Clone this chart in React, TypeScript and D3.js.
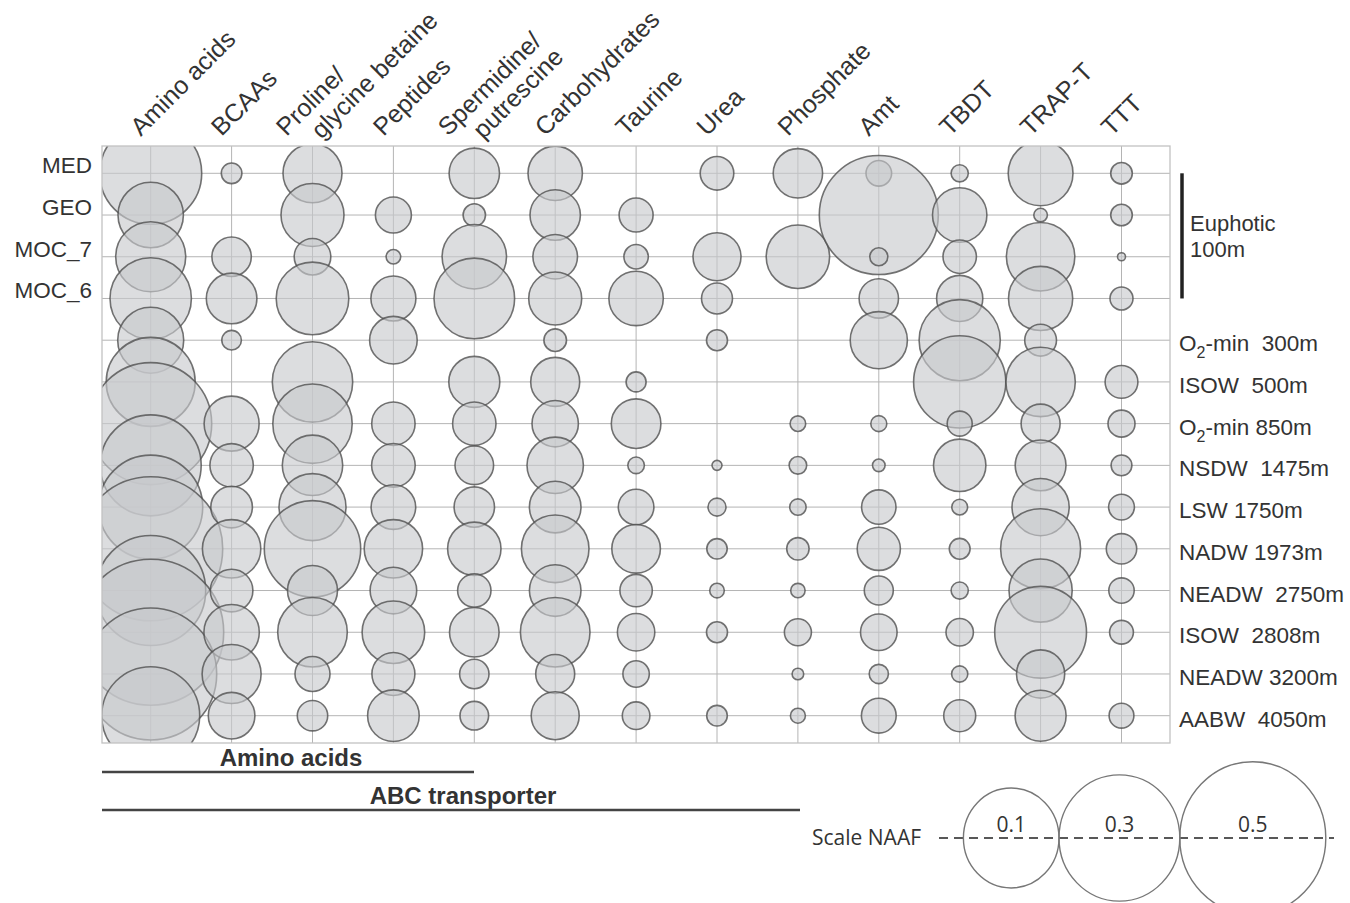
import React from "react";
import * as d3 from "d3";

// ---- data ----
const columnLabels: string[][] = [
  ["Amino acids"],
  ["BCAAs"],
  ["Proline/", "glycine betaine"],
  ["Peptides"],
  ["Spermidine/", "putrescine"],
  ["Carbohydrates"],
  ["Taurine"],
  ["Urea"],
  ["Phosphate"],
  ["Amt"],
  ["TBDT"],
  ["TRAP-T"],
  ["TTT"],
];

const sampleNames = [
  "MED", "GEO", "MOC_7", "MOC_6",
  "O2-min  300m", "ISOW  500m", "O2-min 850m", "NSDW  1475m", "LSW 1750m",
  "NADW 1973m", "NEADW  2750m", "ISOW  2808m", "NEADW 3200m", "AABW  4050m",
];
const leftLabelRows = ["MED", "GEO", "MOC_7", "MOC_6"];

// relative abundance (size units), one value per sample, 0 = not detected
const aminoAcids = [0.51, 0.327, 0.35, 0.407, 0.33, 0.445, 0.61, 0.505, 0.52, 0.72, 0.55, 0.73, 0.66, 0.49];
const bcaas = [0.103, 0, 0.197, 0.253, 0.098, 0, 0.275, 0.217, 0.208, 0.292, 0.213, 0.277, 0.295, 0.233];
const proline = [0.295, 0.315, 0.183, 0.363, 0, 0.402, 0.397, 0.302, 0.335, 0.482, 0.25, 0.348, 0.175, 0.152];
const peptides = [0, 0.18, 0.073, 0.225, 0.238, 0, 0.217, 0.218, 0.223, 0.292, 0.233, 0.313, 0.215, 0.258];
const spermidine = [0.252, 0.112, 0.322, 0.403, 0, 0.255, 0.217, 0.193, 0.202, 0.267, 0.167, 0.248, 0.147, 0.143];
const carbohydrates = [0.272, 0.252, 0.223, 0.265, 0.113, 0.245, 0.232, 0.282, 0.258, 0.338, 0.258, 0.348, 0.195, 0.24];
const taurine = [0, 0.17, 0.122, 0.272, 0, 0.1, 0.248, 0.083, 0.178, 0.243, 0.162, 0.187, 0.132, 0.138];
const urea = [0.168, 0, 0.24, 0.155, 0.105, 0, 0, 0.05, 0.09, 0.102, 0.073, 0.105, 0, 0.103];
const phosphate = [0.247, 0, 0.317, 0, 0, 0, 0.078, 0.088, 0.082, 0.112, 0.072, 0.135, 0.058, 0.075];
const amt = [0.128, 0.595, 0.09, 0.197, 0.286, 0, 0.08, 0.063, 0.172, 0.216, 0.145, 0.183, 0.096, 0.174];
const tbdt = [0.086, 0.272, 0.167, 0.231, 0.406, 0.461, 0.125, 0.262, 0.079, 0.104, 0.086, 0.137, 0.081, 0.16];
const trapT = [0.324, 0.068, 0.342, 0.321, 0.159, 0.347, 0.195, 0.254, 0.286, 0.40, 0.316, 0.459, 0.241, 0.255];
const ttt = [0.108, 0.108, 0.04, 0.115, 0, 0.164, 0.135, 0.104, 0.129, 0.152, 0.127, 0.119, 0, 0.124];

const seriesValues = [aminoAcids, bcaas, proline, peptides, spermidine, carbohydrates, taurine, urea, phosphate, amt, tbdt, trapT, ttt];

const groupLabels = ["Amino acids", "ABC transporter"];
const euphoticLabel = ["Euphotic", "100m"];
const legendValues = [0.1, 0.3, 0.5];

// ---- layout ----
const W = 1350, H = 903;
const plot = { left: 102, top: 146, right: 1170, bottom: 743 };
const FONT = "'Liberation Sans', Arial, Helvetica, sans-serif";
const LFONT = "'Open Sans', 'Noto Sans', sans-serif";
const TEXT = "#333";

const colKeys = columnLabels.map((_, i) => String(i));
const x = d3.scalePoint<string>().domain(colKeys).range([150.7, 1121.5]);
const y = d3.scalePoint<string>().domain(sampleNames).range([173.3, 715.7]);
const r = d3.scaleLinear().domain([0, 1]).range([0, 100]);
const legendR = d3.scaleLinear().domain([0.1, 0.5]).range([47.8, 73]);

const groupLayout = [
  { cx: 291, lineY: 772, x1: 474 },
  { cx: 463, lineY: 810, x1: 800 },
];

function SubLabel({ text, xx, yy }: { text: string; xx: number; yy: number }) {
  if (text.startsWith("O2")) {
    return (
      <text x={xx} y={yy} fontFamily={FONT} fontSize={22.5} fill={TEXT} style={{ whiteSpace: "pre" }}>
        O<tspan fontSize={16} dy={7}>2</tspan>
        <tspan dy={-7}>{text.slice(2)}</tspan>
      </text>
    );
  }
  return (
    <text x={xx} y={yy} fontFamily={FONT} fontSize={22.5} fill={TEXT} style={{ whiteSpace: "pre" }}>
      {text}
    </text>
  );
}

export default function App() {
  const bubbles: { cx: number; cy: number; rr: number; key: string }[] = [];
  seriesValues.forEach((vals, ci) => {
    vals.forEach((v, ri) => {
      if (v > 0) bubbles.push({ cx: x(String(ci))!, cy: y(sampleNames[ri])!, rr: r(v), key: `${ci}-${ri}` });
    });
  });

  // legend circle positions (tangent chain)
  let edge = 963.4;
  const legendCircles = legendValues.map((v) => {
    const rx = legendR(v);
    const cx = edge + rx;
    edge = cx + rx;
    return { v, rx, ry: rx * 1.045, cx };
  });
  const legendY = 838;

  return (
    <svg width={W} height={H} viewBox={`0 0 ${W} ${H}`} style={{ position: "absolute", left: 0, top: 0, display: "block", background: "#fff" }}>
      <defs>
        <clipPath id="plotClip">
          <rect x={plot.left} y={plot.top} width={plot.right - plot.left} height={plot.bottom - plot.top} />
        </clipPath>
      </defs>

      {/* grid */}
      <g stroke="#b4b4b4" strokeWidth={1}>
        {colKeys.map((k) => (
          <line key={"v" + k} x1={x(k)} x2={x(k)} y1={plot.top} y2={plot.bottom} />
        ))}
        {sampleNames.map((s) => (
          <line key={"h" + s} x1={plot.left} x2={plot.right} y1={y(s)} y2={y(s)} />
        ))}
      </g>

      {/* bubbles */}
      <g clipPath="url(#plotClip)">
        {bubbles.map((b) => (
          <circle
            key={b.key}
            cx={b.cx}
            cy={b.cy}
            r={b.rr}
            fill="rgba(200,201,204,0.63)"
            stroke="rgba(80,80,80,0.8)"
            strokeWidth={1.6}
          />
        ))}
      </g>

      {/* frame */}
      <rect x={plot.left} y={plot.top} width={plot.right - plot.left} height={plot.bottom - plot.top} fill="none" stroke="#c2c2c2" strokeWidth={1.3} />

      {/* column labels */}
      {columnLabels.map((lines, ci) => {
        const cx = x(String(ci))!;
        if (lines.length === 1) {
          return (
            <text key={"c" + ci} transform={`translate(${cx - 10},137) rotate(-45)`} fontFamily={FONT} fontSize={25} fill={TEXT}>
              {lines[0]}
            </text>
          );
        }
        return (
          <g key={"c" + ci}>
            <text transform={`translate(${cx - 26},137) rotate(-45)`} fontFamily={FONT} fontSize={25} fill={TEXT}>
              {lines[0]}
            </text>
            <text transform={`translate(${cx + 9},140) rotate(-45)`} fontFamily={FONT} fontSize={25} fill={TEXT}>
              {lines[1]}
            </text>
          </g>
        );
      })}

      {/* left labels */}
      {leftLabelRows.map((s) => (
        <text key={"l" + s} x={92} y={y(s)} textAnchor="end" fontFamily={FONT} fontSize={22.5} fill={TEXT}>
          {s}
        </text>
      ))}

      {/* right labels */}
      {sampleNames.slice(4).map((s) => (
        <SubLabel key={"r" + s} text={s} xx={1179} yy={y(s)! + 11} />
      ))}

      {/* euphotic bar */}
      <line x1={1182} x2={1182} y1={y("MED")} y2={y("MOC_6")} stroke="#222" strokeWidth={3.5} />
      <text x={1190} y={231} fontFamily={FONT} fontSize={22} fill={TEXT}>{euphoticLabel[0]}</text>
      <text x={1190} y={257} fontFamily={FONT} fontSize={22} fill={TEXT}>{euphoticLabel[1]}</text>

      {/* group labels */}
      {groupLabels.map((g, gi) => {
        const L = groupLayout[gi];
        return (
          <g key={"g" + gi}>
            <text x={L.cx} y={L.lineY - 6} textAnchor="middle" fontFamily={FONT} fontWeight="bold" fontSize={24} fill={TEXT}>
              {g}
            </text>
            <line x1={plot.left} x2={L.x1} y1={L.lineY} y2={L.lineY} stroke="#444" strokeWidth={2.6} />
          </g>
        );
      })}

      {/* scale legend */}
      <text x={812} y={845} fontFamily={LFONT} fontSize={21} fill={TEXT}>Scale NAAF</text>
      <line x1={939} x2={1334} y1={legendY} y2={legendY} stroke="#222" strokeWidth={1.3} strokeDasharray="9 6" />
      {legendCircles.map((c) => (
        <g key={"lg" + c.v}>
          <ellipse cx={c.cx} cy={legendY} rx={c.rx} ry={c.ry} fill="none" stroke="#777" strokeWidth={1.4} />
          <text x={c.cx} y={832} textAnchor="middle" fontFamily={LFONT} fontSize={21} fill={TEXT}>
            {c.v}
          </text>
        </g>
      ))}
    </svg>
  );
}
